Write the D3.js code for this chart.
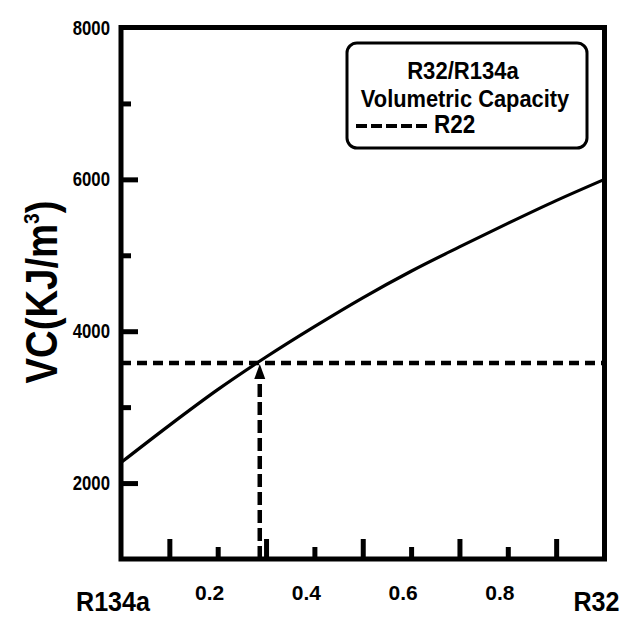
<!DOCTYPE html>
<html><head><meta charset="utf-8">
<script src="https://cdn.jsdelivr.net/npm/d3@7"></script>
<style>body{margin:0;background:#fff}svg{display:block}text{font-family:"Liberation Sans",Arial,sans-serif;font-weight:bold;fill:#000}</style>
</head><body><div id="chart"></div>
<script>
const composition = [0, 0.1, 0.2, 0.3, 0.4, 0.5, 0.6, 0.7, 0.8, 0.9, 1.0];
const vcValues = [2270, 2760, 3230, 3660, 4060, 4440, 4790, 5110, 5420, 5720, 6000];
const r22Value = 3580;
const r22Composition = 0.287;
const yTickLabels = [2000, 4000, 6000, 8000];
const yMajorTicks = [2000, 4000, 6000];
const yMinorTicks = [3000, 5000, 7000];
const xMajorTicks = [0.1, 0.3, 0.5, 0.7, 0.9];
const xMinorTicks = [0.2, 0.4, 0.6, 0.8];
const xTickLabels = [0.2, 0.4, 0.6, 0.8];
const xEndLabels = [{v: 0, t: "R134a"}, {v: 1, t: "R32"}];
const legendTitle = ["R32/R134a", "Volumetric Capacity"];
const legendR22 = "R22";

const W = 640, H = 631;
const svg = d3.select("#chart").append("svg").attr("width", W).attr("height", H);
const x = d3.scaleLinear().domain([0, 1]).range([121, 604.5]);
const y = d3.scaleLinear().domain([1000, 8000]).range([559, 27.5]);

// ticks (inward)
function styleAxis(g){ g.select(".domain").remove(); g.selectAll("text").remove(); g.selectAll("line").attr("stroke","#000").attr("stroke-width",5); }
svg.append("g").attr("transform",`translate(${x(0)},0)`).call(d3.axisLeft(y).tickValues(yMajorTicks).tickSize(-17)).call(styleAxis);
svg.append("g").attr("transform",`translate(${x(0)},0)`).call(d3.axisLeft(y).tickValues(yMinorTicks).tickSize(-10)).call(styleAxis);
svg.append("g").attr("transform",`translate(0,${y(1000)})`).call(d3.axisBottom(x).tickValues(xMajorTicks).tickSize(-20)).call(styleAxis);
svg.append("g").attr("transform",`translate(0,${y(1000)})`).call(d3.axisBottom(x).tickValues(xMinorTicks).tickSize(-12)).call(styleAxis);

// R22 horizontal dashed
svg.append("line").attr("x1",x(0)).attr("x2",x(1)).attr("y1",y(r22Value)).attr("y2",y(r22Value))
  .attr("stroke","#000").attr("stroke-width",4.5).attr("stroke-dasharray","10,6");
// vertical dashed arrow
const ax = x(r22Composition), tipY = y(r22Value)+1;
svg.append("line").attr("x1",ax).attr("x2",ax).attr("y1",y(1000)).attr("y2",tipY+14)
  .attr("stroke","#000").attr("stroke-width",4.5).attr("stroke-dasharray","13,5");
svg.append("path").attr("d",`M${ax},${tipY} L${ax-5.5},${tipY+15} L${ax+5.5},${tipY+15} Z`).attr("fill","#000");

// curve
const line = d3.line().x((d,i)=>x(composition[i])).y(d=>y(d)).curve(d3.curveMonotoneX);
svg.append("path").datum(vcValues).attr("d",line).attr("fill","none").attr("stroke","#000").attr("stroke-width",3.2);

// frame
svg.append("rect").attr("x",x(0)).attr("y",y(8000)).attr("width",x(1)-x(0)).attr("height",y(1000)-y(8000))
  .attr("fill","none").attr("stroke","#000").attr("stroke-width",5);

// labels
function txt(px,py,s,size,anchor,sx){
  return svg.append("text").attr("transform",`translate(${px},${py}) scale(${sx},1)`)
    .attr("font-size",size).attr("text-anchor",anchor).text(s);
}
yTickLabels.forEach(v=>txt(110, y(v)+7, v, 19.5, "end", 0.86));
xTickLabels.forEach(v=>txt(x(v)-8, 600, v.toFixed(1), 21, "middle", 1.0));
xEndLabels.forEach(d=>txt(x(d.v)-8, 611, d.t, 28.5, "middle", 0.88));

// y title
const yt = svg.append("text").attr("transform","translate(57,292) rotate(-90) scale(0.87,1)")
  .attr("font-size",44).attr("text-anchor","middle");
yt.append("tspan").text("VC(KJ/m");
yt.append("tspan").attr("font-size",22).attr("dy",-18).text("3");
yt.append("tspan").attr("dy",18).text(")");

// legend
svg.append("rect").attr("x",347).attr("y",43).attr("width",240).attr("height",105).attr("rx",10)
  .attr("fill","#fff").attr("stroke","#000").attr("stroke-width",3);
txt(463, 79, legendTitle[0], 24, "middle", 0.92);
txt(465, 107, legendTitle[1], 24, "middle", 0.91);
svg.append("line").attr("x1",356).attr("x2",429).attr("y1",126).attr("y2",126)
  .attr("stroke","#000").attr("stroke-width",4).attr("stroke-dasharray","11,4");
txt(434, 133, legendR22, 25, "start", 0.9);
</script></body></html>
